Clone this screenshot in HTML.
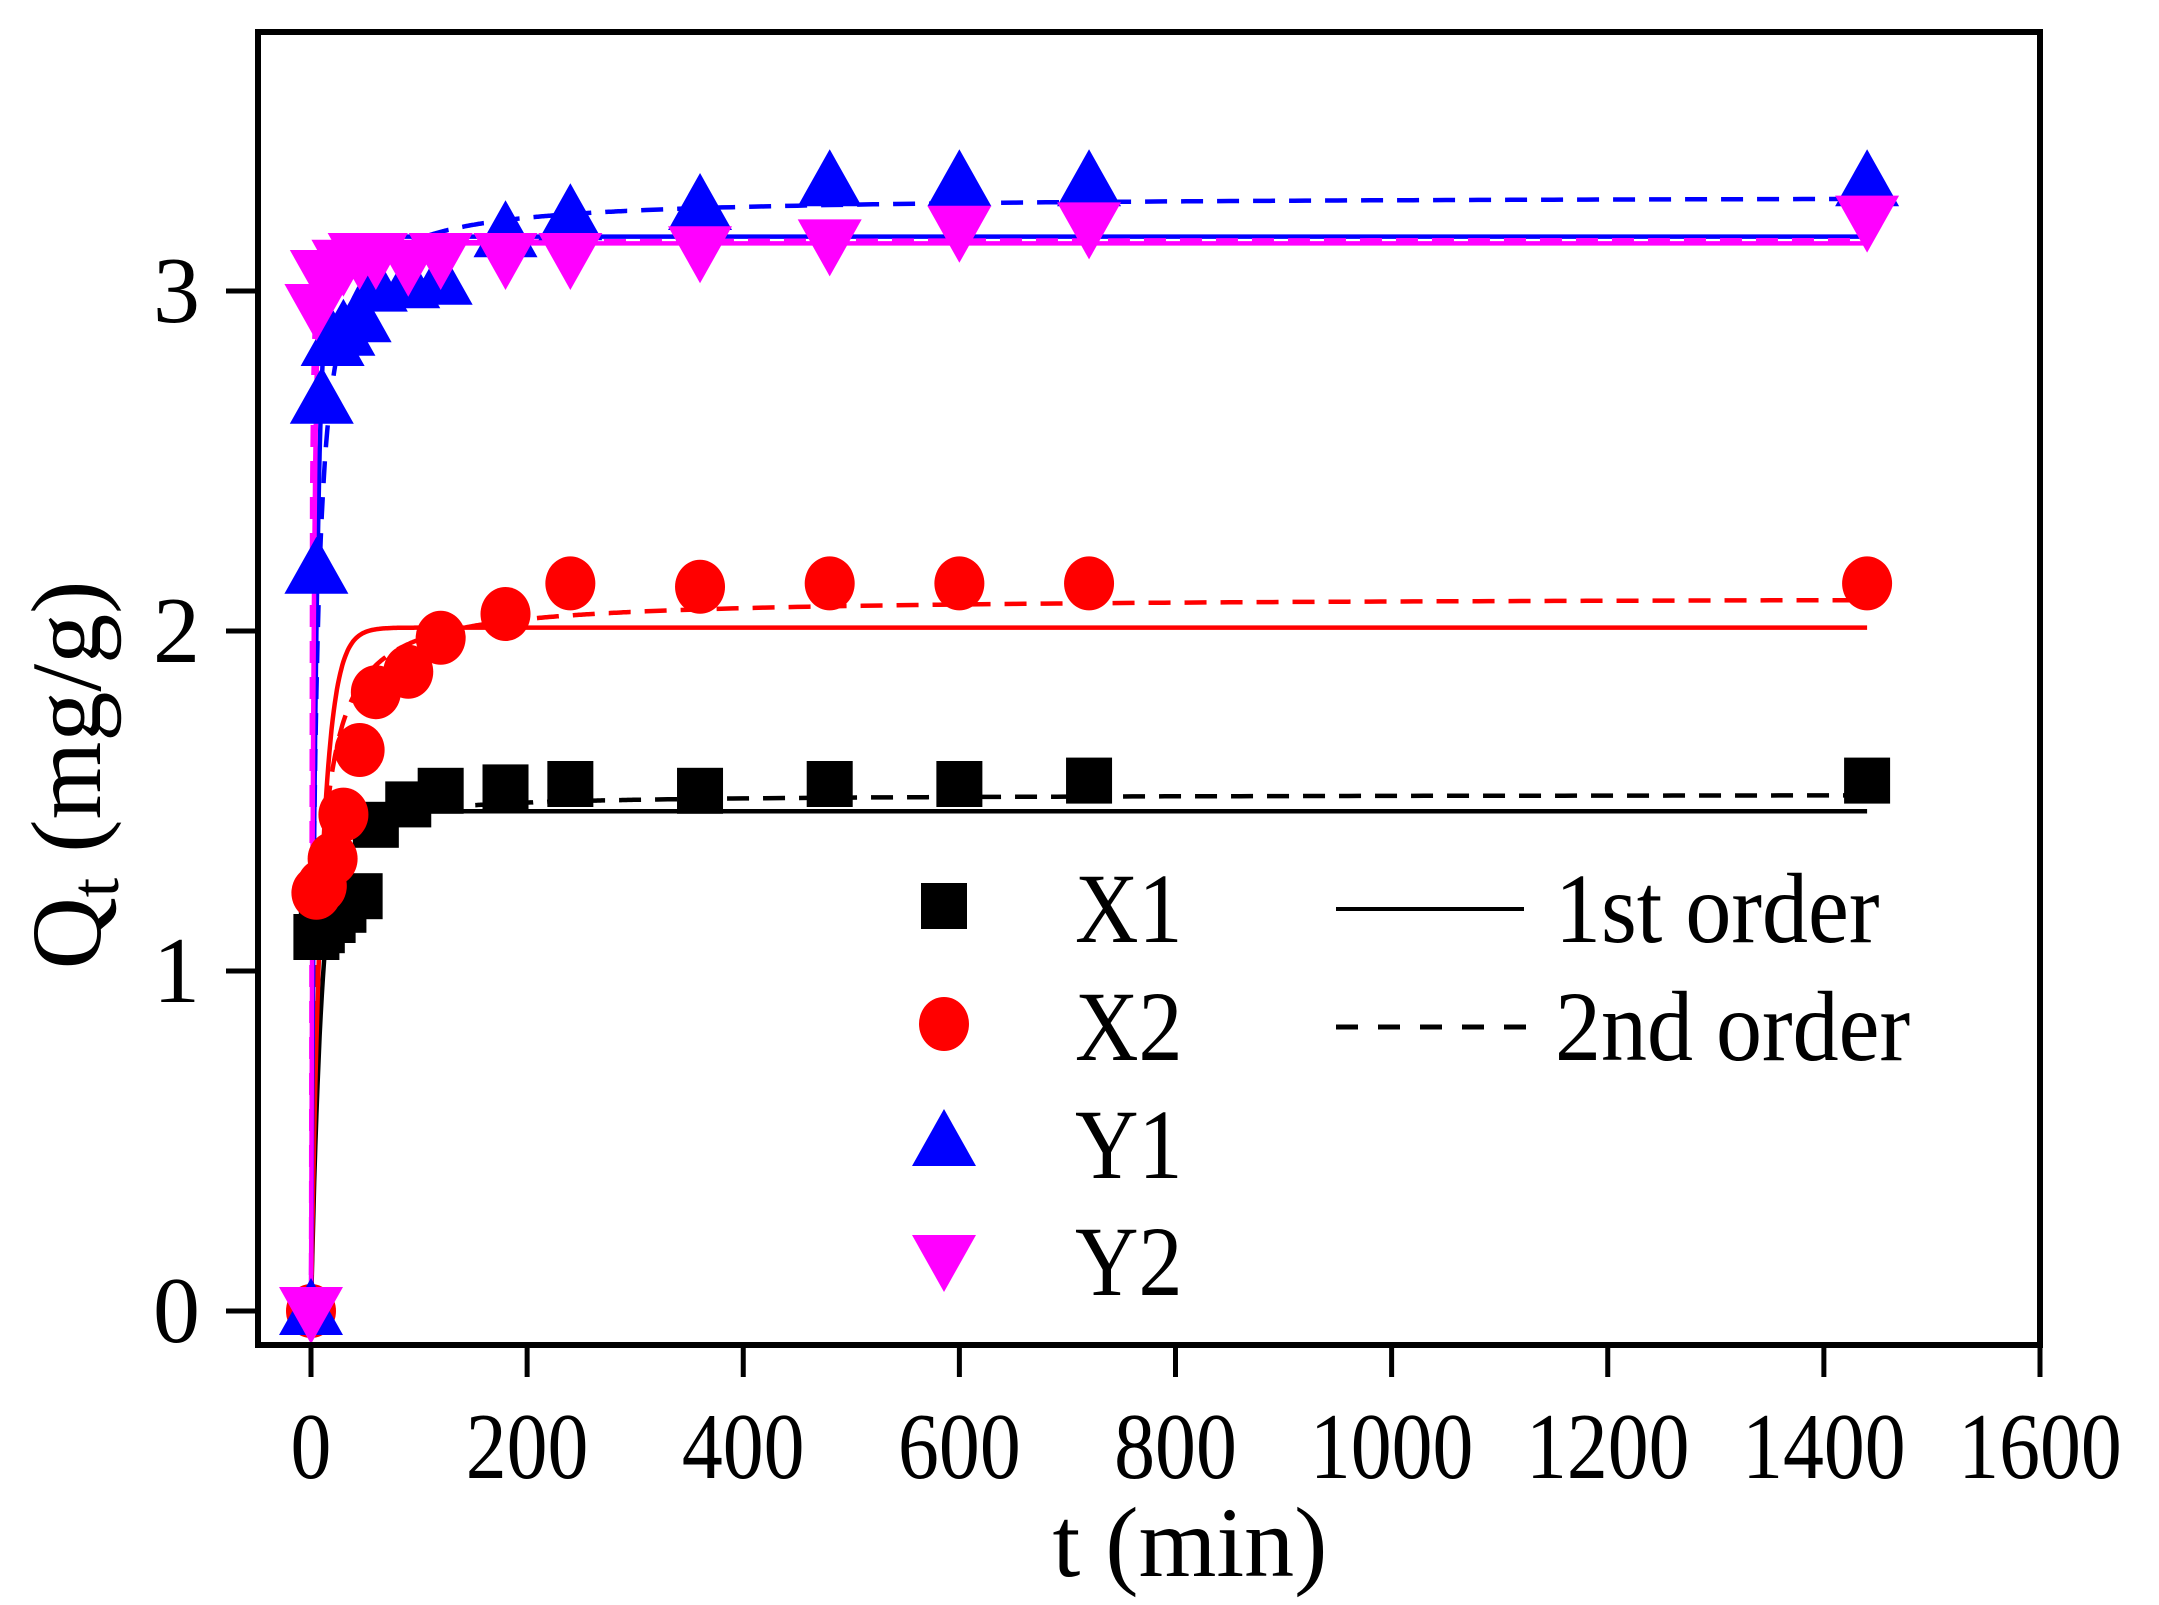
<!DOCTYPE html>
<html><head><meta charset="utf-8">
<style>
html,body{margin:0;padding:0;background:#fff;}
svg{display:block;}
text{font-family:"Liberation Serif",serif;fill:#000;}
</style></head>
<body>
<svg id="chart" width="2159" height="1605" viewBox="0 0 2159 1605" xmlns="http://www.w3.org/2000/svg">
<g id="fits"></g>
<g id="points"></g>
<g id="axes"></g>
<g id="legend"></g>
</svg>
<script>
const times = [0,5,10,20,30,45,60,90,120,180,240,360,480,600,720,1440];
const x1Values = [0,1.1,1.12,1.15,1.18,1.22,1.43,1.49,1.53,1.54,1.55,1.53,1.55,1.55,1.56,1.56];
const x2Values = [0,1.23,1.25,1.33,1.46,1.65,1.82,1.88,1.98,2.05,2.14,2.13,2.14,2.14,2.14,2.14];
const y1Values = [0,2.18,2.68,2.85,2.88,2.92,3.01,3.02,3.03,3.17,3.22,3.25,3.32,3.32,3.32,3.32];
const y2Values = [0,2.95,3.05,3.05,3.08,3.1,3.1,3.08,3.1,3.1,3.1,3.12,3.14,3.18,3.19,3.21];
const seriesNames = ["X1","X2","Y1","Y2"];
const pfoQe = [1.47,2.01,3.16,3.14];
const pfoK = [0.1,0.1,0.2,0.4];
const psoQe = [1.52,2.1,3.28,3.15];
const psoK = [0.2,0.075,0.076,1.0];
const xTicks = [0,200,400,600,800,1000,1200,1400,1600];
const yTicks = [0,1,2,3];

const NS="http://www.w3.org/2000/svg";
const L=258,R=2040,T=32,B=1345;
const X0=311, XS=(2040-311)/1600;
const Y0=1311, YS=340;
function sx(t){return X0+t*XS;}
function sy(v){return Y0-v*YS;}
function mk(tag,attrs,parent){const e=document.createElementNS(NS,tag);for(const k in attrs)e.setAttribute(k,attrs[k]);parent.appendChild(e);return e;}
const colors=["#000000","#ff0000","#0000ff","#ff00ff"];
const shapes=["square","circle","up","down"];
const allVals=[x1Values,x2Values,y1Values,y2Values];

function marker(shape,cx,cy,color,parent){
  let e;
  if(shape==="square") e=mk("rect",{x:cx-23,y:cy-23,width:46,height:46,fill:color},parent);
  else if(shape==="circle") e=mk("ellipse",{cx:cx,cy:cy,rx:25,ry:27,fill:color},parent);
  else if(shape==="up") e=mk("polygon",{points:`${cx},${cy-33} ${cx+32},${cy+24} ${cx-32},${cy+24}`,fill:color},parent);
  else e=mk("polygon",{points:`${cx},${cy+33} ${cx+32},${cy-24} ${cx-32},${cy-24}`,fill:color},parent);
  return e;
}

const fits=document.getElementById('fits');
for(let s=0;s<4;s++){
  let d1="",d2="";
  for(let t=0;t<=1440;t+=(t<300?1:10)){
    const q1=pfoQe[s]*(1-Math.exp(-pfoK[s]*t));
    const q2=psoQe[s]*psoQe[s]*psoK[s]*t/(1+psoQe[s]*psoK[s]*t);
    d1+=(t===0?"M":"L")+sx(t).toFixed(1)+","+sy(q1).toFixed(1);
    d2+=(t===0?"M":"L")+sx(t).toFixed(1)+","+sy(q2).toFixed(1);
  }
  const p1=mk("path",{d:d1,fill:"none",stroke:colors[s],"stroke-width":4.5},fits);
  
  
  const p2=mk("path",{d:d2,fill:"none",stroke:colors[s],"stroke-width":4.5,"stroke-dasharray":"22,14"},fits);
  
  
}
const pts=document.getElementById('points');
for(let s=0;s<4;s++){
  for(let i=0;i<times.length;i++){
    const m=marker(shapes[s],sx(times[i]),sy(allVals[s][i]),colors[s],pts);
    
    
  }
}
const ax=document.getElementById('axes');
const frame=mk("rect",{x:L,y:T,width:R-L,height:B-T,fill:"none",stroke:"#000","stroke-width":6},ax);


xTicks.forEach(v=>{
  mk("line",{x1:sx(v),x2:sx(v),y1:B,y2:B+32,stroke:"#000","stroke-width":5},ax);
  const t=mk("text",{x:sx(v),y:1478,"font-size":94,"text-anchor":"middle",transform:`translate(${sx(v)},0) scale(0.87,1) translate(${-sx(v)},0)`},ax);
  t.textContent=v;
  
  
});
yTicks.forEach(v=>{
  mk("line",{x1:L-32,x2:L,y1:sy(v),y2:sy(v),stroke:"#000","stroke-width":5},ax);
  const t=mk("text",{x:200,y:sy(v)+31,"font-size":94,"text-anchor":"end"},ax);
  t.textContent=v;
  
  
});
const xt=mk("text",{x:1190,y:1576,"font-size":100,"text-anchor":"middle"},ax);
xt.textContent="t (min)";


const yt=mk("text",{x:0,y:0,"font-size":100,"text-anchor":"middle",transform:"translate(100,775) rotate(-90)"},ax);
yt.innerHTML='Q<tspan font-size="70" dy="18">t</tspan><tspan dy="-18"> (mg/g)</tspan>';



const lg=document.getElementById('legend');
const ly=[906,1024,1142,1259];
for(let s=0;s<4;s++){
  const m=marker(shapes[s],944,ly[s],colors[s],lg);
  
  
  const t=mk("text",{x:1075,y:ly[s]+36,"font-size":100,transform:`translate(1075,0) scale(0.88,1) translate(-1075,0)`},lg);
  t.textContent=seriesNames[s];
  
  
}
mk("line",{x1:1336,x2:1524,y1:909,y2:909,stroke:"#000","stroke-width":4},lg);
mk("line",{x1:1336,x2:1530,y1:1027,y2:1027,stroke:"#000","stroke-width":5,"stroke-dasharray":"22,20"},lg);
const l1=mk("text",{x:1555,y:942,"font-size":100,transform:"translate(1555,0) scale(0.92,1) translate(-1555,0)"},lg);
l1.textContent="1st order";


const l2=mk("text",{x:1555,y:1060,"font-size":100,transform:"translate(1555,0) scale(0.92,1) translate(-1555,0)"},lg);
l2.textContent="2nd order";


</script>
</body></html>
